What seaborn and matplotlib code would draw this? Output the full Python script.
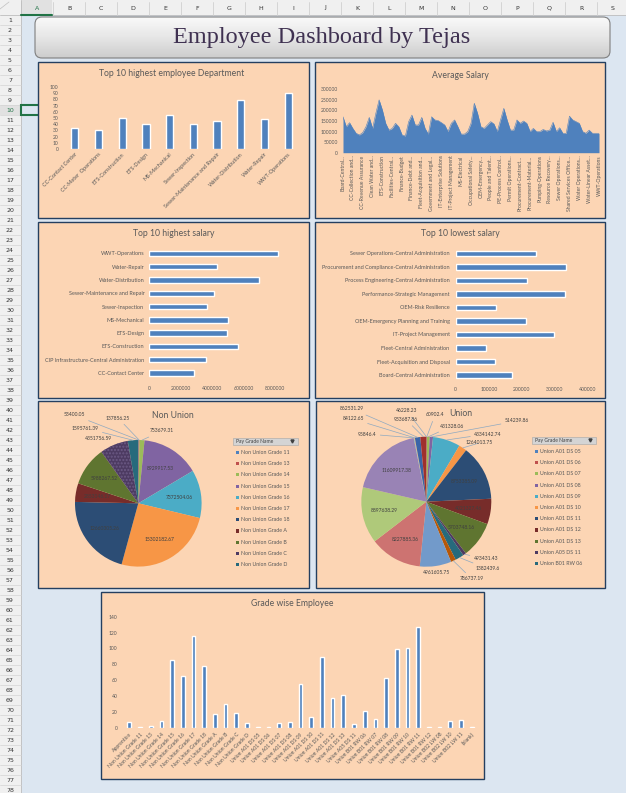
import numpy as np
import matplotlib
matplotlib.use('Agg')
import matplotlib.pyplot as plt
from matplotlib.patches import Rectangle, FancyBboxPatch
from matplotlib.ticker import FuncFormatter
import seaborn as sns

W, H = 626, 793

sns.set_style('white')
plt.rcParams['font.family'] = ['Lato', 'DejaVu Sans']

# ---- data ----
# Top 10 highest employee Department
dept_names = ['CC-Contact Center', 'CC-Meter  Operations', 'ETS-Construction', 'ETS-Design',
              'MS-Mechanical', 'Sewer-Inspection', 'Sewer-Maintenance and Repair',
              'Water-Distribution', 'Water-Repair', 'WWT-Operations']
dept_counts = [34, 31, 50, 40, 55, 40, 45, 79, 48, 91]

# Average Salary (every 3rd department is labelled)
avg_salary = [170, 123, 142, 115, 92, 84, 95, 123, 167, 115,
              186, 250, 202, 139, 107, 115, 139, 123, 84, 79,
              147, 178, 131, 131, 167, 115, 88, 170, 155, 152,
              142, 131, 100, 139, 155, 123, 88, 88, 100, 139,
              234, 186, 123, 115, 131, 147, 136, 100, 155, 210,
              155, 107, 107, 155, 139, 150, 139, 100, 115, 100,
              100, 110, 103, 107, 144, 100, 118, 92, 92, 173,
              155, 147, 139, 100, 92, 107, 92, 92, 92]
avg_salary = [v * 1000 for v in avg_salary]
avg_labels = ['Board-Central…', 'CC-Collection and…', 'CC-Revenue Assurance', 'Clean Water and…',
              'ETS-Construction', 'Facilities-Central…', 'Finance-Budget', 'Finance-Debt and…',
              'Fleet-Acquisition and…', 'Government and Legal…', 'IT-Enterprise Solutions',
              'IT-Project Management', 'MS-Electrical', 'Occupational Safety…', 'OEM-Emergency…',
              'People and Talent…', 'PE-Process Control…', 'Permit Operations…',
              'Procurement-Contract…', 'Procurement-Material…', 'Pumping-Operations',
              'Resource Recovery…', 'Sewer Operations…', 'Shared Services Office…',
              'Water Operations…', 'Water-Linear Asset…', 'WWT-Operations']

# Top 10 highest salary (top to bottom)
high_names = ['WWT-Operations', 'Water-Repair', 'Water-Distribution', 'Sewer-Maintenance and Repair',
              'Sewer-Inspection', 'MS-Mechanical', 'ETS-Design', 'ETS-Construction',
              'CIP Infrastructure-Central Administration', 'CC-Contact Center']
high_salary = [8180000, 4290000, 6970000, 4120000, 3670000, 4990000, 4930000, 5630000, 3590000, 2830000]

# Top 10 lowest salary (top to bottom)
low_names = ['Sewer Operations-Central Administration', 'Procurement and Compliance-Central Administration',
             'Process Engineering-Central Administration', 'Performance-Strategic Management',
             'OEM-Risk Resilience', 'OEM-Emergency Planning and Training', 'IT-Project Management',
             'Fleet-Central Administration', 'Fleet-Acquisition and Disposal', 'Board-Central Administration']
low_salary = [241800, 333500, 214600, 330500, 120900, 211600, 296300, 90700, 118900, 170200]

# Non Union pie
nu_names = ['Non Union Grade 11', 'Non Union Grade 13', 'Non Union Grade 14', 'Non Union Grade 15',
            'Non Union Grade 16', 'Non Union Grade 17', 'Non Union Grade 18', 'Non Union Grade A',
            'Non Union Grade B', 'Non Union Grade C', 'Non Union Grade D']
nu_values = [53400.05, 137856.25, 753679.31, 8929917.53, 7372504.06, 15302182.67,
             12660305.26, 2853146.17, 5988267.52, 4351756.59, 1595761.39]

# Union pie
un_names = ['Union A01 DS 05', 'Union A01 DS 06', 'Union A01 DS 07', 'Union A01 DS 08',
            'Union A01 DS 09', 'Union A01 DS 10', 'Union A01 DS 11', 'Union A01 DS 12',
            'Union A01 DS 13', 'Union A05 DS 11', 'Union B01 RW 06', 'Union B01 RW 07',
            'Union B01 RW 08', 'Union B01 RW 09', 'Union B01 RW 10', 'Union B01 RW 11',
            'Union B01 RW 12', 'Union B02 LW 08', 'Union B02 LW 10', 'Union B02 LW 11']
un_values = [46228.23, 60902.4, 431328.06, 514239.86, 4334142.74, 1264013.75, 8753385.09,
             4021327.46, 5703748.16, 493431.43, 1382439.6, 786737.19, 4961605.75, 8227885.36,
             8897638.29, 11609917.38, 95846.4, 84122.65, 862531.29, 933687.86]

# Grade wise Employee
grade_names = ['Apprentice', 'Non Union Grade 11', 'Non Union Grade 13', 'Non Union Grade 14',
               'Non Union Grade 15', 'Non Union Grade 16', 'Non Union Grade 17', 'Non Union Grade 18',
               'Non Union Grade A', 'Non Union Grade B', 'Non Union Grade C', 'Non Union Grade D',
               'Union A01 DS 05', 'Union A01 DS 06', 'Union A01 DS 07', 'Union A01 DS 08',
               'Union A01 DS 09', 'Union A01 DS 10', 'Union A01 DS 11', 'Union A01 DS 12',
               'Union A01 DS 13', 'Union A05 DS 11', 'Union B01 RW 06', 'Union B01 RW 07',
               'Union B01 RW 08', 'Union B01 RW 09', 'Union B01 RW 10', 'Union B01 RW 11',
               'Union B01 RW 12', 'Union B02 LW 08', 'Union B02 LW 10', 'Union B02 LW 11', '(blank)']
grade_counts = [7, 1, 2, 8, 85, 65, 116, 78, 17, 30, 18, 6, 1, 1, 6, 7,
                55, 13, 89, 37, 41, 5, 21, 11, 63, 99, 100, 127, 1, 1, 8, 10, 1]

# excel 2007 chart palette
palette = ['#4F81BD', '#C0504D', '#9BBB59', '#8064A2', '#4BACC6', '#F79646',
           '#2C4D75', '#772C2A', '#5F7530', '#4D3B62', '#276A7C', '#B65708',
           '#729ACA', '#CD7371', '#AFC97A', '#9983B5', '#6FBDD1', '#F9AB6B',
           '#3A65A8', '#A0302D']
BAR = '#4F81BD'
TXT = '#595959'
PANEL = '#FCD5B4'

fig = plt.figure(figsize=(W / 100, H / 100), dpi=100)
fig.patch.set_facecolor('#DCE6F1')

canvas = fig.add_axes([0, 0, 1, 1])
canvas.set_facecolor('#DCE6F1')
canvas.axis('off')


def box(x0, y0, x1, y1):
    return [x0 / W, 1 - y1 / H, (x1 - x0) / W, (y1 - y0) / H]


# ---- spreadsheet frame ----
canvas.add_patch(Rectangle((0, 0), W, 15, facecolor='#F0F0F0', edgecolor='none', zorder=1))
canvas.add_patch(Rectangle((21, 0), 31, 15, facecolor='#E1E1E1', edgecolor='none', zorder=1))
canvas.plot([0, W], [15, 15], color='#BDBDBD', lw=0.6, zorder=2)
canvas.plot([21, 52], [14.5, 14.5], color='#217346', lw=1.5, zorder=3)
for k in range(20):
    canvas.plot([21 + 32 * k, 21 + 32 * k], [2, 15], color='#D0D0D0', lw=0.6, zorder=2)
for k, letter in enumerate('ABCDEFGHIJKLMNOPQRS'):
    canvas.text(37 + 32 * k, 8, letter, ha='center', va='center', fontsize=4.5,
                family='DejaVu Sans', color='#217346' if k == 0 else '#333333', zorder=3)
canvas.add_patch(Rectangle((0, 15), 21, H - 15, facecolor='#F0F0F0', edgecolor='none', zorder=1))
canvas.add_patch(Rectangle((0, 105), 21, 10, facecolor='#E1E1E1', edgecolor='none', zorder=1))
canvas.plot([21, 21], [0, H], color='#BDBDBD', lw=0.6, zorder=2)
for n in range(1, 79):
    y = 15 + 10 * n
    canvas.plot([0, 21], [y, y], color='#D4D4D4', lw=0.5, zorder=2)
    canvas.text(10, y - 5, str(n), ha='center', va='center', fontsize=4.5, family='DejaVu Sans',
                color='#217346' if n == 10 else '#333333', zorder=3)
canvas.plot([0, 9], [9, 2], color='#C0C0C0', lw=0.5, zorder=2)
# selected cell A10
canvas.add_patch(Rectangle((20.5, 104.5), 31, 10, facecolor='none', edgecolor='#217346', lw=1.5, zorder=2))

# ---- banner ----
banner = FancyBboxPatch((35, 17), 575, 41, boxstyle='round,pad=0,rounding_size=7',
                        facecolor='none', edgecolor='#7F7F7F', lw=0.8, zorder=5)
canvas.add_patch(banner)
grad = np.linspace(0, 1, 64).reshape(-1, 1)
img = canvas.imshow(grad, extent=[35, 610, 58, 17], cmap=matplotlib.colors.LinearSegmentedColormap.from_list(
    'g', ['#FAFAFA', '#E6E6E6', '#CDCDCD']), aspect='auto', zorder=4)
img.set_clip_path(banner)
canvas.text(322, 37, 'Employee Dashboard by Tejas', family='Liberation Serif', fontsize=17.5,
            color='#3F3151', ha='center', va='center', zorder=6)
canvas.set_xlim(0, W)
canvas.set_ylim(H, 0)

# ---- panels ----
panels = [(38, 62, 309, 218), (315, 62, 605, 218), (38, 222, 309, 398), (315, 222, 605, 398),
          (38, 401, 309, 588), (316, 401, 605, 588), (101, 592, 484, 779)]
for x0, y0, x1, y1 in panels:
    canvas.add_patch(Rectangle((x0, y0), x1 - x0, y1 - y0, facecolor=PANEL,
                               edgecolor='#243F60', lw=1.0, zorder=3))

titles = [(172, 73, 'Top 10 highest employee Department'), (460, 75, 'Average Salary'),
          (174, 233, 'Top 10 highest salary'), (460, 233, 'Top 10 lowest salary'),
          (173, 416, 'Non Union'), (461, 413, 'Union'), (292, 603, 'Grade wise Employee')]
for x, y, t in titles:
    canvas.text(x, y, t, ha='center', va='center', fontsize=6.2, color=TXT, zorder=6)

plain = FuncFormatter(lambda v, p: f'{v:.0f}')


def clean(ax):
    ax.set_facecolor('none')
    sns.despine(ax=ax, left=True, bottom=True)
    ax.set_xlabel('')
    ax.set_ylabel('')
    ax.tick_params(length=0, colors=TXT)


# ---- Top 10 highest employee Department ----
ax1 = fig.add_axes(box(63, 87, 300, 149))
sns.barplot(x=dept_names, y=dept_counts, color=BAR, saturation=1, width=0.3, ax=ax1)
clean(ax1)
ax1.set_ylim(0, 100)
ax1.set_yticks(range(0, 101, 10))
ax1.tick_params(axis='y', labelsize=3.6, pad=3.4)
ax1.tick_params(axis='x', labelsize=4, pad=2)
plt.setp(ax1.get_xticklabels(), rotation=45, ha='right', rotation_mode='anchor')

# ---- Average Salary ----
ax2 = fig.add_axes(box(343, 89.3, 599, 152.7))
idx = np.arange(len(avg_salary))
sns.lineplot(x=idx, y=avg_salary, color=BAR, lw=0.4, ax=ax2)
ax2.fill_between(idx, avg_salary, color=BAR, lw=0)
clean(ax2)
ax2.set_xlim(0, len(avg_salary) - 1)
ax2.set_ylim(0, 300000)
ax2.set_yticks(range(0, 300001, 50000))
ax2.yaxis.set_major_formatter(plain)
ax2.set_xticks(idx[::3])
ax2.set_xticklabels(avg_labels, rotation=90, ha='center', va='top')
ax2.tick_params(axis='y', labelsize=3.6, pad=3.6)
ax2.tick_params(axis='x', labelsize=3.7, pad=2)

# ---- Top 10 highest salary ----
ax3 = fig.add_axes(box(149.3, 246.7, 290.6, 379.7))
sns.barplot(x=high_salary, y=high_names, orient='h', color=BAR, saturation=1, width=0.4, ax=ax3)
clean(ax3)
ax3.set_xlim(0, 9000000)
ax3.set_xticks(range(0, 8000001, 2000000))
ax3.xaxis.set_major_formatter(plain)
ax3.tick_params(axis='y', labelsize=4.0, pad=3.6)
ax3.tick_params(axis='x', labelsize=3.7, pad=4.4)

# ---- Top 10 lowest salary ----
ax4 = fig.add_axes(box(455.7, 246.5, 594.6, 381.8))
sns.barplot(x=low_salary, y=low_names, orient='h', color=BAR, saturation=1, width=0.4, ax=ax4)
clean(ax4)
ax4.set_xlim(0, 420000)
ax4.set_xticks(range(0, 400001, 100000))
ax4.xaxis.set_major_formatter(plain)
ax4.tick_params(axis='y', labelsize=4.0, pad=4.3)
ax4.tick_params(axis='x', labelsize=3.7, pad=3.8)


# ---- pies ----
def fmt(v):
    return format(v, '.10g')


def draw_pie(cx, cy, r, values, colors, outside, hatch_idx=None):
    ax = fig.add_axes(box(cx - r, cy - r, cx + r, cy + r))
    wedges, _ = ax.pie(values, colors=colors, startangle=90, counterclock=False,
                       wedgeprops=dict(linewidth=0))
    if hatch_idx is not None:
        wedges[hatch_idx].set_hatch('.....')
        wedges[hatch_idx].set_edgecolor('#6C5A85')
    ax.set_xlim(-1, 1)
    ax.set_ylim(-1, 1)
    ax.set_aspect('equal')
    ax.axis('off')
    for i, (w, v) in enumerate(zip(wedges, values)):
        ang = np.deg2rad((w.theta1 + w.theta2) / 2)
        if i in outside:
            tx, ty, line = outside[i]
            if line:
                ax.annotate(fmt(v), xy=(np.cos(ang), np.sin(ang)), xytext=(tx, ty),
                            textcoords=canvas.transData, ha='center', va='center',
                            fontsize=3.6, color='#404040', annotation_clip=False,
                            arrowprops=dict(arrowstyle='-', color='#8EA9C1', lw=0.5,
                                            shrinkA=0.5, shrinkB=0))
            else:
                canvas.text(tx, ty, fmt(v), ha='center', va='center', fontsize=3.6,
                            color='#404040', zorder=6)
        else:
            ax.text(0.66 * np.cos(ang), 0.66 * np.sin(ang), fmt(v), ha='center', va='center',
                    fontsize=3.6, color='#404040')
    return ax


nu_outside = {0: (74, 415, True), 1: (118, 418, True), 2: (162, 431, True),
              9: (98, 439, False), 10: (85, 428, True)}
draw_pie(138.3, 503.3, 63.3, nu_values, palette[:len(nu_values)], nu_outside, hatch_idx=9)

un_outside = {0: (407, 411, True), 1: (435, 415, True), 2: (452, 426, True), 3: (517, 421, True),
              4: (488, 434, True), 5: (479, 443, True), 9: (486, 559, True), 10: (488, 569, True),
              11: (472, 579, True), 12: (436, 573, False), 16: (367, 434, True),
              17: (353, 419, True), 18: (352, 409, True), 19: (406, 419.5, True)}
draw_pie(426.3, 501.7, 65, un_values, palette[:len(un_values)], un_outside)


# legends (excel pivot legend, only first 11 items fit)
def pivot_legend(x0, x1, y0, names):
    canvas.add_patch(Rectangle((x0, y0), x1 - x0, 7, facecolor='#D4D4D4', edgecolor='#A6A6A6',
                               lw=0.4, zorder=6))
    canvas.text(x0 + 3, y0 + 3.6, 'Pay Grade Name', fontsize=3.6, color='#404040',
                va='center', zorder=7)
    canvas.plot([x1 - 6], [y0 + 3.2], marker='v', ms=2.2, color='#404040', zorder=7)
    for k, name in enumerate(names[:11]):
        y = y0 + 15 + 11.2 * k
        canvas.add_patch(Rectangle((x0 + 3.2, y - 1.6), 3.2, 3.2, facecolor=palette[k],
                                   edgecolor='none', zorder=6))
        canvas.text(x0 + 8, y, name, fontsize=3.8, color=TXT, va='center', zorder=6)


pivot_legend(233, 298, 437.5, nu_names)
pivot_legend(532, 596, 436.5, un_names)

# ---- Grade wise Employee ----
ax7 = fig.add_axes(box(124, 616.7, 477, 727.7))
sns.barplot(x=grade_names, y=grade_counts, color=BAR, saturation=1, width=0.35, ax=ax7)
clean(ax7)
ax7.set_ylim(0, 140)
ax7.set_yticks(range(0, 141, 20))
ax7.tick_params(axis='y', labelsize=3.6, pad=4.8)
ax7.tick_params(axis='x', labelsize=3.7, pad=3)
plt.setp(ax7.get_xticklabels(), rotation=45, ha='right', rotation_mode='anchor')

fig.savefig('out.png', dpi=100, facecolor=fig.get_facecolor())
